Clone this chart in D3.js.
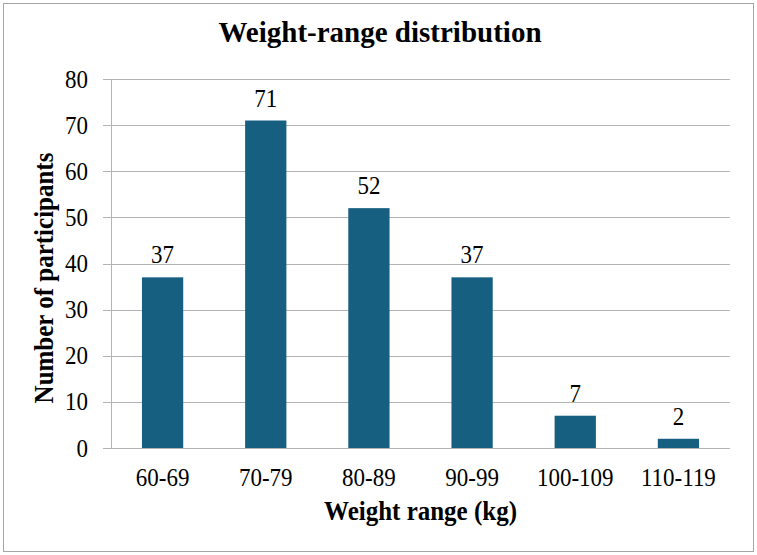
<!DOCTYPE html>
<html>
<head>
<meta charset="utf-8">
<script src="https://cdn.jsdelivr.net/npm/d3@7"></script>
<style>
  body { margin: 0; background: #fff; }
  svg text { font-family: "Liberation Serif", "Times New Roman", serif; fill: #000; }
</style>
</head>
<body>
<div id="chart"></div>
<script>
var categories = ["60-69", "70-79", "80-89", "90-99", "100-109", "110-119"];
var counts = [37, 71, 52, 37, 7, 2];
var yTicks = [0, 10, 20, 30, 40, 50, 60, 70, 80];

var w = 757, h = 555;
var margin = { top: 79, right: 27, bottom: 107, left: 111 };
var barColor = "#175f80";
var gridColor = "#b3b3b3";
var serif = "'Liberation Serif', 'Times New Roman', serif";
var stretch = "scale(1,1.1)";   // source text is a little taller than wide

var svg = d3.select("#chart")
    .append("svg")
    .attr("width", w)
    .attr("height", h)
    .attr("font-family", serif);

// outer frame
svg.append("rect")
    .attr("x", 3.5)
    .attr("y", 3.5)
    .attr("width", w - 7)
    .attr("height", h - 7)
    .attr("fill", "#fff")
    .attr("stroke", "#a6a6a6")
    .attr("stroke-width", 1);

var x = d3.scaleBand()
    .domain(categories)
    .range([margin.left, w - margin.right])
    .paddingInner(0.6)
    .paddingOuter(0.3);

var y = d3.scaleLinear()
    .domain([0, 80])
    .range([h - margin.bottom, margin.top]);

// gridlines + y labels
var yAxis = d3.axisLeft(y)
    .tickValues(yTicks)
    .tickSize(-(w - margin.right - margin.left + 8))
    .tickPadding(15)
    .tickFormat(d3.format("d"));

var gy = svg.append("g")
    .attr("transform", "translate(" + (margin.left - 8) + ",0)")
    .call(yAxis)
    .attr("font-family", serif);

gy.select(".domain").remove();
gy.selectAll(".tick line")
    .attr("stroke", gridColor)
    .attr("shape-rendering", "crispEdges");
gy.selectAll(".tick text")
    .attr("font-size", 23)
    .attr("transform", stretch);

// vertical axis line
svg.append("line")
    .attr("x1", margin.left + 0.5)
    .attr("x2", margin.left + 0.5)
    .attr("y1", y(80))
    .attr("y2", y(0))
    .attr("stroke", gridColor);

// bars
svg.append("g")
    .selectAll("rect")
    .data(counts)
    .enter()
    .append("rect")
    .attr("x", function(d, i) { return x(categories[i]); })
    .attr("y", function(d) { return y(d); })
    .attr("width", x.bandwidth())
    .attr("height", function(d) { return y(0) - y(d); })
    .attr("fill", barColor);

// baseline over bars
svg.append("line")
    .attr("x1", margin.left - 8)
    .attr("x2", w - margin.right)
    .attr("y1", Math.round(y(0)) + 0.5)
    .attr("y2", Math.round(y(0)) + 0.5)
    .attr("stroke", gridColor);

// value labels
svg.append("g")
    .selectAll("text")
    .data(counts)
    .enter()
    .append("text")
    .attr("transform", function(d, i) {
        return "translate(" + (x(categories[i]) + x.bandwidth() / 2) + "," + (y(d) - 14) + ")" + stretch;
    })
    .attr("text-anchor", "middle")
    .attr("font-size", 23)
    .text(function(d) { return d; });

// x category labels
var xAxis = d3.axisBottom(x).tickSize(0).tickPadding(18);
var gx = svg.append("g")
    .attr("transform", "translate(0," + y(0) + ")")
    .call(xAxis)
    .attr("font-family", serif);
gx.select(".domain").remove();
gx.selectAll(".tick text")
    .attr("font-size", 23)
    .attr("transform", stretch);

// title
svg.append("text")
    .attr("x", 380)
    .attr("y", 42)
    .attr("text-anchor", "middle")
    .attr("font-size", 29)
    .attr("font-weight", "bold")
    .text("Weight-range distribution");

// axis titles
svg.append("text")
    .attr("transform", "translate(" + ((margin.left + w - margin.right) / 2) + ",520)" + stretch)
    .attr("text-anchor", "middle")
    .attr("font-size", 25)
    .attr("font-weight", "bold")
    .text("Weight range (kg)");

svg.append("text")
    .attr("transform", "translate(53,278) scale(1.1,1) rotate(-90)")
    .attr("text-anchor", "middle")
    .attr("font-size", 25)
    .attr("font-weight", "bold")
    .text("Number of participants");
</script>
</body>
</html>
